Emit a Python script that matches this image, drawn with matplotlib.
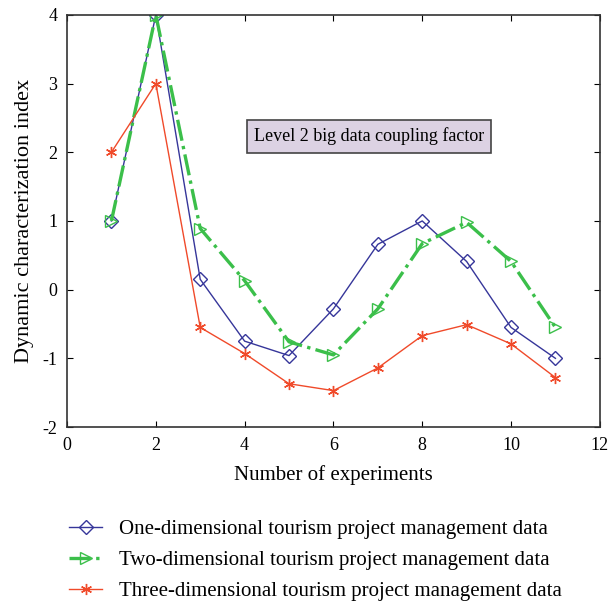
import matplotlib.pyplot as plt

# experiment numbers and the three series
experiments = [1, 2, 3, 4, 5, 6, 7, 8, 9, 10, 11]
one_dim = [1.0, 4.0, 0.15, -0.75, -0.96, -0.28, 0.66, 1.0, 0.41, -0.55, -1.0]
two_dim = [1.0, 4.0, 0.89, 0.13, -0.76, -0.95, -0.28, 0.67, 0.98, 0.41, -0.55]
three_dim = [2.0, 3.0, -0.55, -0.93, -1.37, -1.47, -1.14, -0.67, -0.51, -0.79, -1.28]

labels = ['One-dimensional tourism project management data',
          'Two-dimensional tourism project management data',
          'Three-dimensional tourism project management data']

plt.rcParams['font.family'] = ['Liberation Serif', 'DejaVu Serif']
plt.rcParams['axes.unicode_minus'] = False

fig = plt.figure(figsize=(6.11, 6.07), dpi=100)
ax = fig.add_axes([0.1097, 0.2965, 0.872, 0.679])

ax.plot(experiments, one_dim, color='#36369a', lw=1.0, marker='D', ms=7,
        mfc='none', mec='#36369a', mew=1.0, label=labels[0])
ax.plot(experiments, two_dim, color='#3bbf4a', lw=2.4, ls='-.', marker='>', ms=9,
        mfc='none', mec='#3bbf4a', mew=1.0, label=labels[1])
ax.plot(experiments, three_dim, color='#f04a2a', lw=1.0, marker=(6, 2, 0), ms=8,
        mec='#f04a2a', mew=1.0, label=labels[2])

ax.set_xlim(0, 12)
ax.set_ylim(-2, 4)
ax.set_xticks(range(0, 13, 2))
ax.set_yticks(range(-2, 5))
ax.tick_params(direction='in', top=True, right=True, labelsize=13, length=4, pad=7)
for s in ax.spines.values():
    s.set_linewidth(1.2)
    s.set_color('#333333')

ax.set_xlabel('Number of experiments', fontsize=15, labelpad=8)
ax.set_ylabel('Dynamic characterization index', fontsize=16, labelpad=6)

ax.text(6.8, 2.23, 'Level 2 big data coupling factor', fontsize=13,
        ha='center', va='center',
        bbox=dict(boxstyle='square,pad=0.4', fc='#dcd2e3', ec='#444444', lw=1.2))

fig.legend(loc='upper left', bbox_to_anchor=(0.082, 0.175), frameon=False,
           fontsize=15, handlelength=1.6, handletextpad=0.8, labelspacing=0.55)

fig.savefig('out.png', dpi=100)
